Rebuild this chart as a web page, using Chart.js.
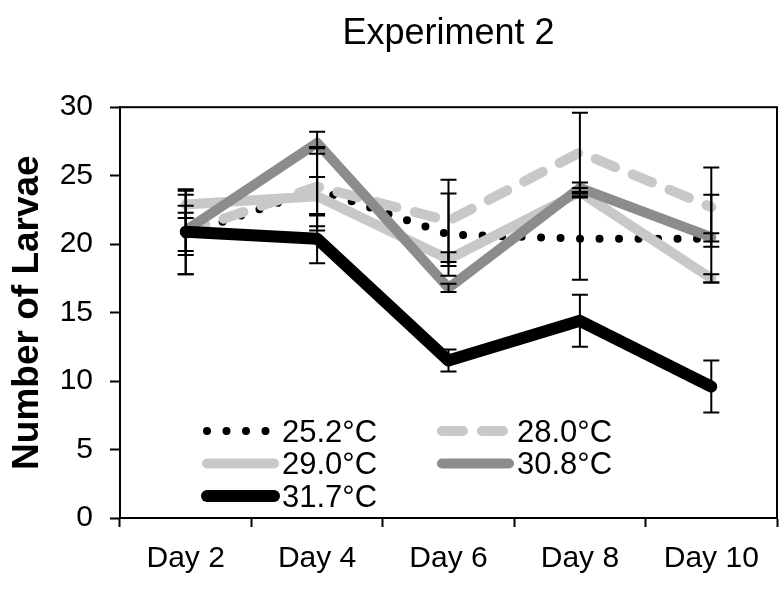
<!DOCTYPE html>
<html>
<head>
<meta charset="utf-8">
<title>Experiment 2</title>
<script src="https://cdn.jsdelivr.net/npm/chart.js@4.4.0/dist/chart.umd.min.js"></script>
<style>
  html, body { margin: 0; padding: 0; background: #fff; }
  #wrap { width: 782px; height: 589px; }
</style>
</head>
<body>
<div id="wrap"><canvas id="larvaeChart"></canvas></div>
<script>
// Data
const days = ["Day 2", "Day 4", "Day 6", "Day 8", "Day 10"];
const yTicks = [0, 5, 10, 15, 20, 25, 30];
const seriesNames = ["25.2°C", "28.0°C", "29.0°C", "30.8°C", "31.7°C"];

const t252 = [20.7, 24.0, 20.7, 20.4, 20.4];
const t280 = [20.9, 24.2, 21.7, 26.7, 22.7];
const t290 = [22.9, 23.5, 18.9, 23.8, 17.5];
const t308 = [21.0, 27.4, 16.8, 24.1, 20.5];
const t317 = [20.9, 20.4, 11.5, 14.4, 9.6];

// error bar half-lengths
const e252 = [2.9, 3.0, 3.0, 3.0, 3.2];
const e280 = [1.4, 2.9, 3.0, 2.9, 2.9];
const e290 = [1.0, 1.4, 0.5, 0.3, 0.3];
const e308 = [1.8, 0.8, 0.3, 0.4, 0.3];
const e317 = [3.1, 1.8, 0.8, 1.9, 1.9];

const FONT = "'Liberation Sans', Arial, sans-serif";
Chart.defaults.font.family = FONT;
Chart.defaults.color = "#000";

// Error bars, drawn on top of the lines
const errorBars = {
    id: "errorBars",
    afterDatasetsDraw(chart) {
        const ctx = chart.ctx;
        const xs = chart.scales.x, ys = chart.scales.y;
        ctx.save();
        ctx.strokeStyle = "#000";
        ctx.lineWidth = 2;
        chart.data.datasets.forEach(ds => {
            ds.data.forEach((v, i) => {
                const px = xs.getPixelForValue(i);
                const top = ys.getPixelForValue(v + ds.errors[i]);
                const bot = ys.getPixelForValue(v - ds.errors[i]);
                ctx.beginPath();
                ctx.moveTo(px, top); ctx.lineTo(px, bot);
                ctx.moveTo(px - 8, top); ctx.lineTo(px + 8, top);
                ctx.moveTo(px - 8, bot); ctx.lineTo(px + 8, bot);
                ctx.stroke();
            });
        });
        ctx.restore();
    }
};

// Plot area frame (top and right sides)
const frame = {
    id: "frame",
    beforeDatasetsDraw(chart) {
        const a = chart.chartArea, ctx = chart.ctx;
        ctx.save();
        ctx.strokeStyle = "#000";
        ctx.lineWidth = 2;
        ctx.strokeRect(a.left, a.top, a.right - a.left, a.bottom - a.top);
        ctx.restore();
    }
};

// Two-column legend inside the plot, bottom left
const insideLegend = {
    id: "insideLegend",
    afterDraw(chart) {
        const ctx = chart.ctx, a = chart.chartArea;
        ctx.save();
        ctx.font = "31px " + FONT;
        ctx.textBaseline = "middle";
        ctx.fillStyle = "#000";
        chart.data.datasets.forEach((ds, i) => {
            const col = i % 2, row = Math.floor(i / 2);
            const x0 = a.left + 82 + col * 235;
            const yc = a.bottom - 87 + row * 32.5;
            ctx.beginPath();
            ctx.strokeStyle = ds.borderColor;
            ctx.lineWidth = ds.borderWidth;
            ctx.lineCap = ds.borderCapStyle;
            ctx.setLineDash(ds.borderDash || []);
            ctx.moveTo(x0 + 5, yc);
            ctx.lineTo(x0 + 72, yc);
            ctx.stroke();
            ctx.setLineDash([]);
            ctx.fillText(ds.label, x0 + 80, yc + 2);
        });
        ctx.restore();
    }
};

function series(label, data, errors, color, width, dash) {
    return {
        label: label,
        data: data,
        errors: errors,
        borderColor: color,
        backgroundColor: color,
        borderWidth: width,
        borderDash: dash,
        borderCapStyle: "round",
        borderJoinStyle: "round",
        pointRadius: 0,
        tension: 0,
        fill: false
    };
}

const datasets = [
    series(seriesNames[0], t252, e252, "#000000", 8, [0, 19.5]),
    series(seriesNames[1], t280, e280, "#c8c8c8", 10, [21, 19]),
    series(seriesNames[2], t290, e290, "#c8c8c8", 10, []),
    series(seriesNames[3], t308, e308, "#8c8c8c", 10, []),
    series(seriesNames[4], t317, e317, "#000000", 12, [])
];
// later series on top, like the original
datasets.forEach((ds, i) => { ds.order = datasets.length - i; });

new Chart(document.getElementById("larvaeChart"), {
    type: "line",
    data: { labels: days, datasets: datasets },
    plugins: [frame, errorBars, insideLegend],
    options: {
        responsive: true,
        maintainAspectRatio: false,
        animation: false,
        layout: { padding: { top: 0, right: 5, bottom: 0, left: 0 } },
        plugins: {
            legend: { display: false },
            tooltip: { enabled: false },
            title: {
                display: true,
                text: "Experiment 2",
                fullSize: false,
                color: "#000",
                font: { size: 36, weight: "normal" },
                padding: { top: 12, bottom: 52 }
            }
        },
        scales: {
            x: {
                type: "category",
                offset: true,
                grid: { drawOnChartArea: false, offset: true, tickLength: 9, tickColor: "#000", tickWidth: 2 },
                border: { color: "#000", width: 2 },
                ticks: { color: "#000", font: { size: 30 }, padding: 14, maxRotation: 0, autoSkip: false },
                afterFit(s) { s.height = 71; }
            },
            y: {
                min: 0,
                max: 30,
                afterBuildTicks(s) { s.ticks = yTicks.map(v => ({ value: v })); },
                grid: { drawOnChartArea: false, tickLength: 10, tickColor: "#000", tickWidth: 2 },
                border: { color: "#000", width: 2 },
                ticks: { color: "#000", font: { size: 30 }, padding: 17 },
                title: {
                    display: true,
                    text: "Number of Larvae",
                    color: "#000",
                    font: { size: 37, weight: "bold" },
                    padding: { top: 6, bottom: 0 }
                },
                afterFit(s) { s.width = 120; }
            }
        }
    }
});
</script>
</body>
</html>
